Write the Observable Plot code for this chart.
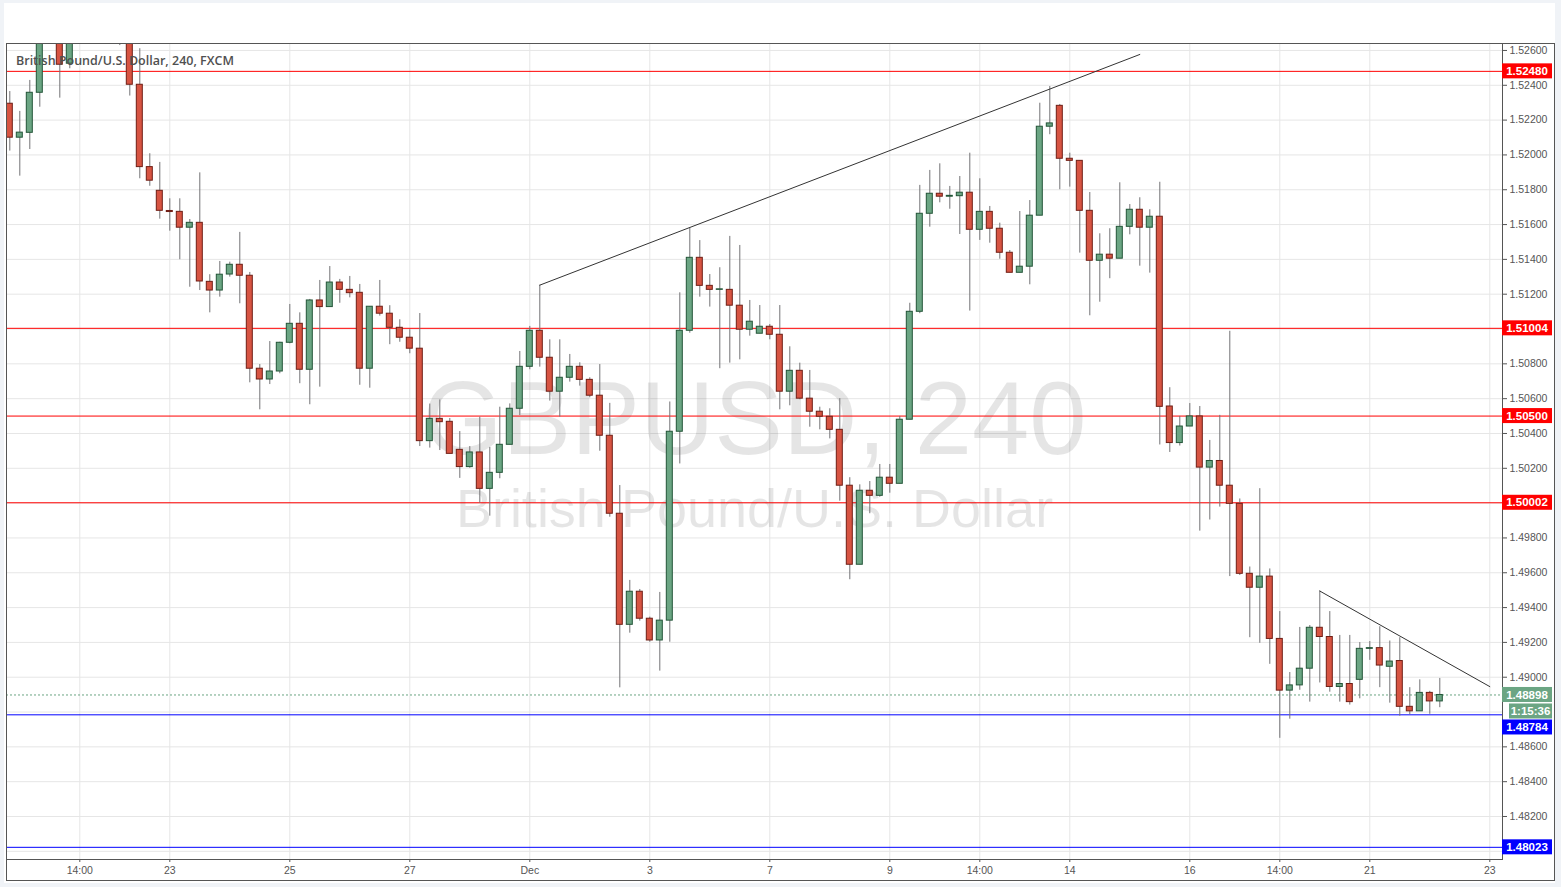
<!DOCTYPE html>
<html><head><meta charset="utf-8">
<script src="https://cdn.jsdelivr.net/npm/d3@7"></script>
<script src="https://cdn.jsdelivr.net/npm/@observablehq/plot@0.6"></script>
<style>
html,body{margin:0;padding:0}
body{background:#f0f3f7;width:1561px;height:887px;overflow:hidden;position:relative;font-family:"Liberation Sans",Arial,sans-serif}
#panel{position:absolute;left:4px;top:3px;width:1551px;height:880px;background:#fff}
#chart{position:absolute;left:0;top:0}
#frame{position:absolute;left:6px;top:43px;width:1549px;height:838px;border:1px solid #555;box-sizing:border-box;pointer-events:none}
</style></head>
<body><div id="panel"></div><div id="chart"></div><div id="frame"></div>
<script>
const opens=[
1.52294,1.52099,1.52127,1.52357,1.52720,1.52810,1.52524,1.52700,1.52790,1.52880,
1.52800,1.52720,1.52700,1.52403,1.51930,1.51794,1.51678,1.51673,1.51582,1.51610,
1.51271,1.51221,1.51313,1.51369,1.51306,1.50772,1.50710,1.50756,1.50921,1.51030,
1.50766,1.51164,1.51126,1.51267,1.51225,1.51208,1.50772,1.51128,1.51088,1.51007,
1.50950,1.50887,1.50356,1.50484,1.50467,1.50306,1.50207,1.50291,1.50082,1.50174,
1.50335,1.50542,1.50783,1.50990,1.50835,1.50640,1.50720,1.50783,1.50708,1.50617,
1.50387,1.49939,1.49301,1.49491,1.49336,1.49211,1.49325,1.50410,1.50990,1.51409,
1.51248,1.51225,1.51225,1.51134,1.50996,1.50973,1.51013,1.50967,1.50640,1.50760,
1.50600,1.50525,1.50496,1.50421,1.50100,1.49646,1.50071,1.50042,1.50146,1.50111,
1.50479,1.51099,1.51662,1.51777,1.51760,1.51763,1.51783,1.51570,1.51673,1.51576,
1.51438,1.51323,1.51358,1.51651,1.52162,1.52282,1.51978,1.51966,1.51679,1.51392,
1.51427,1.51404,1.51587,1.51685,1.51582,1.51645,1.50555,1.50345,1.50440,1.50498,
1.50204,1.50242,1.50100,1.49996,1.49594,1.49514,1.49578,1.49220,1.48923,1.48953,
1.49049,1.49284,1.49231,1.48944,1.48961,1.48985,1.49163,1.49167,1.49060,1.49093,
1.48830,1.48804,1.48910,1.48861];
const highs=[
1.52364,1.52250,1.52428,1.52780,1.52900,1.52860,1.52760,1.52850,1.52950,1.52980,
1.52870,1.52800,1.52760,1.52610,1.52007,1.51957,1.51748,1.51748,1.51629,1.51897,
1.51312,1.51388,1.51384,1.51555,1.51325,1.50796,1.50928,1.50924,1.51141,1.51093,
1.51170,1.51279,1.51359,1.51285,1.51302,1.51256,1.51128,1.51279,1.51134,1.51053,
1.50996,1.51089,1.50569,1.50593,1.50486,1.50411,1.50325,1.50494,1.50320,1.50551,
1.50570,1.50871,1.51015,1.51252,1.50938,1.50938,1.50854,1.50806,1.50720,1.50796,
1.50573,1.50101,1.49556,1.49504,1.49345,1.49487,1.50581,1.51208,1.51580,1.51508,
1.51313,1.51352,1.51532,1.51480,1.51164,1.51135,1.51026,1.51135,1.50898,1.50804,
1.50762,1.50551,1.50542,1.50600,1.50146,1.50105,1.50124,1.50222,1.50222,1.50498,
1.51148,1.51825,1.51911,1.51949,1.51819,1.51876,1.52010,1.51863,1.51704,1.51608,
1.51451,1.51675,1.51738,1.52297,1.52393,1.52290,1.52010,1.51966,1.51784,1.51547,
1.51576,1.51840,1.51715,1.51754,1.51685,1.51843,1.50663,1.50498,1.50572,1.50555,
1.50360,1.50504,1.50987,1.50024,1.49633,1.50083,1.49622,1.49377,1.49027,1.49286,
1.49297,1.49495,1.49377,1.49240,1.49240,1.49199,1.49205,1.49290,1.49208,1.49227,
1.48940,1.48985,1.48919,1.48993];
const lows=[
1.52022,1.51878,1.52031,1.52274,1.52680,1.52326,1.52495,1.52660,1.52720,1.52750,
1.52680,1.52628,1.52338,1.51863,1.51820,1.51631,1.51562,1.51398,1.51240,1.51221,
1.51093,1.51183,1.51298,1.51145,1.50691,1.50536,1.50681,1.50743,1.50915,1.50686,
1.50565,1.50666,1.51126,1.51148,1.51179,1.50677,1.50660,1.51074,1.50910,1.50924,
1.50858,1.50325,1.50316,1.50302,1.50283,1.50142,1.50200,1.49999,1.49925,1.50140,
1.50335,1.50503,1.50766,1.50781,1.50586,1.50494,1.50695,1.50672,1.50605,1.50298,
1.49919,1.48939,1.49253,1.49322,1.49201,1.49035,1.49201,1.50225,1.50976,1.51183,
1.51126,1.50772,1.50804,1.50823,1.50959,1.50973,1.50938,1.50536,1.50559,1.50594,
1.50436,1.50421,1.50369,1.50011,1.49560,1.49646,1.49939,1.50034,1.50057,1.50111,
1.50479,1.51088,1.51585,1.51725,1.51688,1.51543,1.51103,1.51509,1.51493,1.51401,
1.51323,1.51323,1.51254,1.51651,1.52116,1.51800,1.51815,1.51436,1.51076,1.51154,
1.51289,1.51404,1.51541,1.51361,1.51321,1.50334,1.50291,1.50328,1.50440,1.49839,
1.49903,1.49977,1.49578,1.49584,1.49227,1.49195,1.49074,1.48649,1.48759,1.48925,
1.48857,1.48967,1.48914,1.48857,1.48840,1.48876,1.49097,1.48940,1.48851,1.48776,
1.48784,1.48804,1.48787,1.48825];
const closes=[
1.52099,1.52128,1.52357,1.52720,1.52810,1.52518,1.52700,1.52790,1.52880,1.52800,
1.52720,1.52700,1.52403,1.51930,1.51852,1.51679,1.51672,1.51582,1.51610,1.51273,
1.51221,1.51312,1.51369,1.51306,1.50772,1.50710,1.50756,1.50921,1.51030,1.50766,
1.51164,1.51126,1.51267,1.51225,1.51206,1.50772,1.51128,1.51088,1.51007,1.50950,
1.50887,1.50356,1.50484,1.50465,1.50283,1.50207,1.50291,1.50082,1.50174,1.50335,
1.50542,1.50783,1.50990,1.50835,1.50640,1.50720,1.50783,1.50708,1.50617,1.50387,
1.49939,1.49301,1.49491,1.49336,1.49211,1.49325,1.50410,1.50990,1.51409,1.51248,
1.51225,1.51228,1.51134,1.50996,1.51042,1.51013,1.50967,1.50640,1.50760,1.50600,
1.50525,1.50496,1.50421,1.50100,1.49646,1.50071,1.50042,1.50146,1.50111,1.50479,
1.51099,1.51662,1.51777,1.51760,1.51765,1.51783,1.51570,1.51673,1.51576,1.51438,
1.51323,1.51358,1.51651,1.52162,1.52181,1.51978,1.51966,1.51679,1.51392,1.51427,
1.51404,1.51587,1.51685,1.51582,1.51645,1.50553,1.50345,1.50440,1.50498,1.50204,
1.50242,1.50100,1.49996,1.49594,1.49514,1.49578,1.49220,1.48923,1.48953,1.49049,
1.49284,1.49231,1.48944,1.48961,1.48857,1.49163,1.49167,1.49067,1.49090,1.48830,
1.48804,1.48910,1.48861,1.48898];

// x axis: candle index of each date label
const xTickIdx=[7,16,28,40,52,64,76,88,97,106,118,127,136,148];
const xTickLabels=["14:00","23","25","27","Dec","3","7","9","14:00","14","16","14:00","21","23"];
// y axis ticks (grid)
const yTicks=[1.480,1.482,1.484,1.486,1.488,1.490,1.492,1.494,1.496,1.498,1.500,1.502,1.504,1.506,1.508,1.510,1.512,1.514,1.516,1.518,1.520,1.522,1.524,1.526];
// horizontal levels
const redLevels=[1.52480,1.51004,1.50500,1.50002];
const blueLevels=[1.48784,1.48023];
const lastPrice=1.48898;
const countdown="1:15:36";
// trend lines (candle index, price)
const upTrendIdx=[53,113], upTrendPrice=[1.51252,1.52577];
const downTrendIdx=[131,148], downTrendPrice=[1.49495,1.48946];

const titleText="British Pound/U.S. Dollar, 240, FXCM";
const wmBig="GBPUSD, 240";
const wmSmall="British Pound/U.S. Dollar";

const candles=opens.map((o,i)=>({i,o,h:highs[i],l:lows[i],c:closes[i],up:closes[i]>=o}));
const upTrend=upTrendIdx.map((i,k)=>({i,p:upTrendPrice[k]}));
const downTrend=downTrendIdx.map((i,k)=>({i,p:downTrendPrice[k]}));
// tick labels hidden behind the level labels are not drawn
const allLevels=[...redLevels,...blueLevels,lastPrice];
const axisTicks=yTicks.filter(t=>!allLevels.some(v=>Math.abs(v-t)<0.0004));

const GREEN="#6ba583", GREEN_D="#225437", RED="#d75442", RED_D="#6f1d14";

const chart=Plot.plot({
  width:1561,height:887,
  marginLeft:6,marginRight:59,marginTop:43,marginBottom:28,
  style:{background:"transparent",fontFamily:"'Liberation Sans', Arial, sans-serif",fontSize:"10.5px",color:"#555",overflow:"visible"},
  x:{domain:[-0.33,149.27]},
  y:{domain:[1.47953,1.52640]},
  marks:[
    Plot.gridY(yTicks,{stroke:"#e6e6e6",strokeOpacity:1}),
    Plot.gridX(xTickIdx,{stroke:"#e6e6e6",strokeOpacity:1}),
    Plot.text([wmBig],{frameAnchor:"middle",dy:-30,fontSize:103,fill:"#000",fillOpacity:0.1,fontFamily:"'Liberation Sans', Arial, sans-serif"}),
    Plot.text([wmSmall],{frameAnchor:"middle",dy:58,fontSize:54,fill:"#000",fillOpacity:0.1,fontFamily:"'Liberation Sans', Arial, sans-serif"}),
    Plot.ruleY(redLevels,{stroke:"#ff0000",strokeWidth:1}),
    Plot.ruleY(blueLevels,{stroke:"#0000ff",strokeWidth:1}),
    Plot.ruleY([lastPrice],{stroke:GREEN,strokeDasharray:"2,2"}),
    Plot.ruleX(candles,{x:"i",y1:"l",y2:"h",stroke:"#737375",clip:true}),
    Plot.rect(candles,{x1:d=>d.i-0.3,x2:d=>d.i+0.3,y1:"o",y2:"c",fill:d=>d.up?GREEN:RED,stroke:d=>d.up?GREEN_D:RED_D,strokeWidth:1,clip:true}),
    Plot.line(upTrend,{x:"i",y:"p",stroke:"#333",strokeWidth:1}),
    Plot.line(downTrend,{x:"i",y:"p",stroke:"#333",strokeWidth:1}),
    Plot.axisY({anchor:"right",ticks:axisTicks,tickFormat:d3.format(".5f"),tickSize:4,tickPadding:3,stroke:"#555",fill:"#555",label:null}),
    Plot.axisX({ticks:xTickIdx,tickFormat:d=>xTickLabels[xTickIdx.indexOf(d)],tickSize:3,tickPadding:4,stroke:"#555",fill:"#555",label:null}),
    Plot.frame({stroke:"#555"}),
    Plot.text([titleText],{frameAnchor:"top-left",textAnchor:"start",lineAnchor:"top",dx:9.5,dy:12.5,fontSize:12.5,fontWeight:600,fill:"#505050",fontFamily:"'Open Sans', sans-serif"})
  ]
});
document.getElementById("chart").appendChild(chart);

// price labels on the right axis
const ys=chart.scale("y");
const svg=d3.select(chart);
const items=[];
redLevels.forEach(v=>items.push({y:ys.apply(v),text:d3.format(".5f")(v),color:"#ff0000",x0:1502}));
items.push({y:ys.apply(lastPrice),text:d3.format(".5f")(lastPrice),color:GREEN,x0:1502});
items.push({y:ys.apply(lastPrice)+16.5,text:countdown,color:GREEN,x0:1509});
blueLevels.forEach(v=>items.push({y:ys.apply(v),text:d3.format(".5f")(v),color:"#0000ff",x0:1502}));
items.sort((a,b)=>a.y-b.y);
for(let k=1;k<items.length;k++){ if(items[k].y<items[k-1].y+16) items[k].y=items[k-1].y+16; }
const g=svg.append("g");
items.forEach(it=>{
  g.append("rect").attr("x",it.x0).attr("y",it.y-7.5).attr("width",1552-it.x0).attr("height",15).attr("fill",it.color);
  g.append("text").attr("x",(it.x0+1552)/2).attr("y",it.y).attr("dy","0.36em").attr("text-anchor","middle")
   .attr("fill","#fff").attr("font-weight","bold").attr("font-size","11.5px").attr("font-family","'Liberation Sans', Arial, sans-serif").text(it.text);
});
</script>
</body></html>
